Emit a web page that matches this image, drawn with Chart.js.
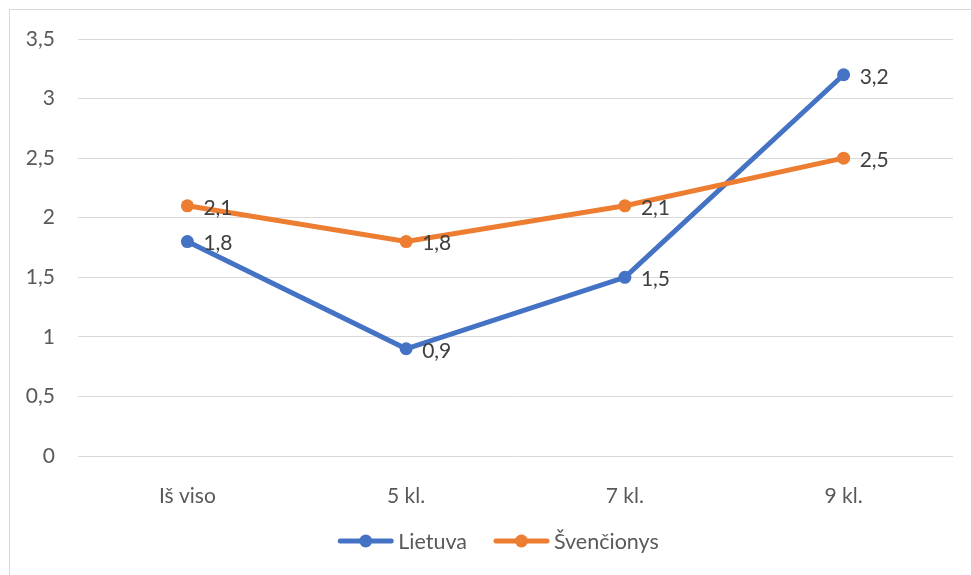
<!DOCTYPE html>
<html>
<head>
<meta charset="utf-8">
<script src="https://cdn.jsdelivr.net/npm/chart.js@4/dist/chart.umd.min.js"></script>
<style>
  html, body { margin: 0; padding: 0; background: #ffffff; }
  #wrap { width: 971px; height: 575px; position: relative; }
</style>
</head>
<body>
<div id="wrap"><canvas id="c" width="971" height="575"></canvas></div>
<script>
const categories = ['Iš viso', '5 kl.', '7 kl.', '9 kl.'];
const lietuva = [1.8, 0.9, 1.5, 3.2];
const svencionys = [2.1, 1.8, 2.1, 2.5];
const seriesNames = ['Lietuva', 'Švenčionys'];

const FONT = 'Lato, "Open Sans", sans-serif';
const BLUE = '#4472C4';
const ORANGE = '#ED7D31';

const fmt = v => String(v).replace('.', ',');

// Outer frame of the chart object
const framePlugin = {
  id: 'frame',
  beforeDraw(chart) {
    const ctx = chart.ctx;
    ctx.save();
    ctx.fillStyle = '#ffffff';
    ctx.fillRect(0, 0, chart.width, chart.height);
    ctx.strokeStyle = '#d9d9d9';
    ctx.lineWidth = 1;
    ctx.strokeRect(9.5, 9.5, chart.width + 20, chart.height + 20);
    ctx.restore();
  }
};

// Value labels to the right of each point
const valueLabels = {
  id: 'valueLabels',
  afterDatasetsDraw(chart) {
    const ctx = chart.ctx;
    ctx.save();
    ctx.font = '21px ' + FONT;
    ctx.fillStyle = '#404040';
    ctx.textAlign = 'left';
    ctx.textBaseline = 'middle';
    chart.data.datasets.forEach((ds, i) => {
      const meta = chart.getDatasetMeta(i);
      meta.data.forEach((pt, j) => {
        ctx.fillText(fmt(ds.data[j]), pt.x + 16, pt.y + 2);
      });
    });
    ctx.restore();
  }
};

// Legend with line + marker swatches along the bottom
const lineLegend = {
  id: 'lineLegend',
  afterDraw(chart) {
    const ctx = chart.ctx;
    ctx.save();
    ctx.font = '21.5px ' + FONT;
    const swatch = 55, gapText = 5, gapItem = 27;
    const items = chart.data.datasets.map(ds => ({
      label: ds.label, color: ds.borderColor,
      w: swatch + gapText + ctx.measureText(ds.label).width
    }));
    const total = items.reduce((s, it) => s + it.w, 0) + gapItem * (items.length - 1);
    const cx = chart.width / 2 + 13;
    let x = cx - total / 2;
    const y = 541;
    items.forEach(it => {
      ctx.strokeStyle = it.color;
      ctx.lineWidth = 5;
      ctx.lineCap = 'round';
      ctx.beginPath();
      ctx.moveTo(x + 2, y);
      ctx.lineTo(x + swatch - 2, y);
      ctx.stroke();
      ctx.fillStyle = it.color;
      ctx.beginPath();
      ctx.arc(x + swatch / 2, y, 6.5, 0, Math.PI * 2);
      ctx.fill();
      ctx.fillStyle = '#595959';
      ctx.textAlign = 'left';
      ctx.textBaseline = 'middle';
      ctx.fillText(it.label, x + swatch + gapText, y + 1);
      x += it.w + gapItem;
    });
    ctx.restore();
  }
};

new Chart(document.getElementById('c'), {
  type: 'line',
  data: {
    labels: categories,
    datasets: [
      {
        label: seriesNames[0], data: lietuva, order: 1,
        borderColor: BLUE, backgroundColor: BLUE,
        borderWidth: 5, pointRadius: 6.5, pointBackgroundColor: BLUE,
        pointBorderWidth: 0, tension: 0, fill: false
      },
      {
        label: seriesNames[1], data: svencionys, order: 0,
        borderColor: ORANGE, backgroundColor: ORANGE,
        borderWidth: 5, pointRadius: 6.5, pointBackgroundColor: ORANGE,
        pointBorderWidth: 0, tension: 0, fill: false
      }
    ]
  },
  options: {
    responsive: false,
    animation: false,
    devicePixelRatio: 1,
    layout: { padding: { left: 0, right: 18, top: 39, bottom: 59 } },
    plugins: { legend: { display: false }, tooltip: { enabled: false } },
    scales: {
      x: {
        offset: true,
        grid: { display: false },
        border: { display: false },
        ticks: { color: '#595959', font: { family: FONT, size: 21 }, padding: 20, maxRotation: 0 },
        afterFit(s) { s.height = 60; }
      },
      y: {
        min: 0, max: 3.5,
        grid: { color: '#d9d9d9', lineWidth: 1, drawTicks: false },
        border: { display: false },
        ticks: {
          stepSize: 0.5, color: '#595959', padding: 23,
          font: { family: FONT, size: 21 },
          callback: v => fmt(v)
        },
        afterFit(s) { s.width = 78; }
      }
    }
  },
  plugins: [framePlugin, valueLabels, lineLegend]
});
</script>
</body>
</html>
